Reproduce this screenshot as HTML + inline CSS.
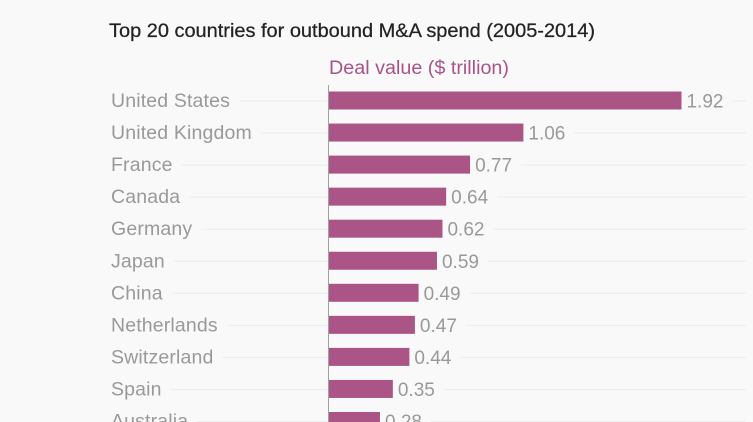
<!DOCTYPE html>
<html>
<head>
<meta charset="utf-8">
<style>
html,body{margin:0;padding:0;background:#f9f9f9;width:753px;height:422px;overflow:hidden}
svg{display:block;font-family:"Liberation Sans",sans-serif}
</style>
</head>
<body>
<svg id="chart" width="753" height="422" viewBox="0 0 753 422">
<rect width="753" height="422" fill="#f9f9f9"/>
<text x="109" y="37" font-size="19" fill="#222" stroke="#222" stroke-width="0.25" textLength="486" lengthAdjust="spacingAndGlyphs">Top 20 countries for outbound M&amp;A spend (2005-2014)</text>
<text x="329" y="74" font-size="19" fill="#a8548a" textLength="180" lengthAdjust="spacingAndGlyphs">Deal value ($ trillion)</text>
<g id="rows"></g>
<line x1="328.5" x2="328.5" y1="85" y2="422" stroke="#a0a0a0" stroke-width="1"/>
</svg>
<script>
const categories = ["United States","United Kingdom","France","Canada","Germany","Japan","China","Netherlands","Switzerland","Spain","Australia"];
const dealValues = [1.92,1.06,0.77,0.64,0.62,0.59,0.49,0.47,0.44,0.35,0.28];
const valueLabels = ["1.92","1.06","0.77","0.64","0.62","0.59","0.49","0.47","0.44","0.35","0.28"];

const NS = "http://www.w3.org/2000/svg";
const rows = document.getElementById("rows");
const x = v => 328.5 + v * 183.85;
const y = i => 100.5 + i * 32.05;
function make(tag, attrs, text) {
  const el = document.createElementNS(NS, tag);
  for (const k in attrs) el.setAttribute(k, attrs[k]);
  if (text !== undefined) el.textContent = text;
  rows.appendChild(el);
  return el;
}
categories.forEach((name, i) => {
  const cy = y(i);
  const label = make("text", {x: 111, y: cy + 6.5, "font-size": 19.5, "letter-spacing": 0.15, fill: "#999"}, name);
  
  
  const labelEnd = 111 + label.getComputedTextLength();
  const leftGrid = make("line", {x1: labelEnd + 9, x2: 328, y1: cy + 0.5, y2: cy + 0.5, stroke: "#ececec", "stroke-width": 1});
  
  
  const bar = make("rect", {x: 329, y: cy - 9, width: x(dealValues[i]) - 329, height: 18, fill: "#aa5585"});
  
  
  const value = make("text", {x: x(dealValues[i]) + 5, y: cy + 7, "font-size": 19, fill: "#999"}, valueLabels[i]);
  
  
  const valueEnd = x(dealValues[i]) + 5 + value.getComputedTextLength();
  const rightGrid = make("line", {x1: valueEnd + 9, x2: 746, y1: cy + 0.5, y2: cy + 0.5, stroke: "#ececec", "stroke-width": 1});
  
  
});
</script>
</body>
</html>
